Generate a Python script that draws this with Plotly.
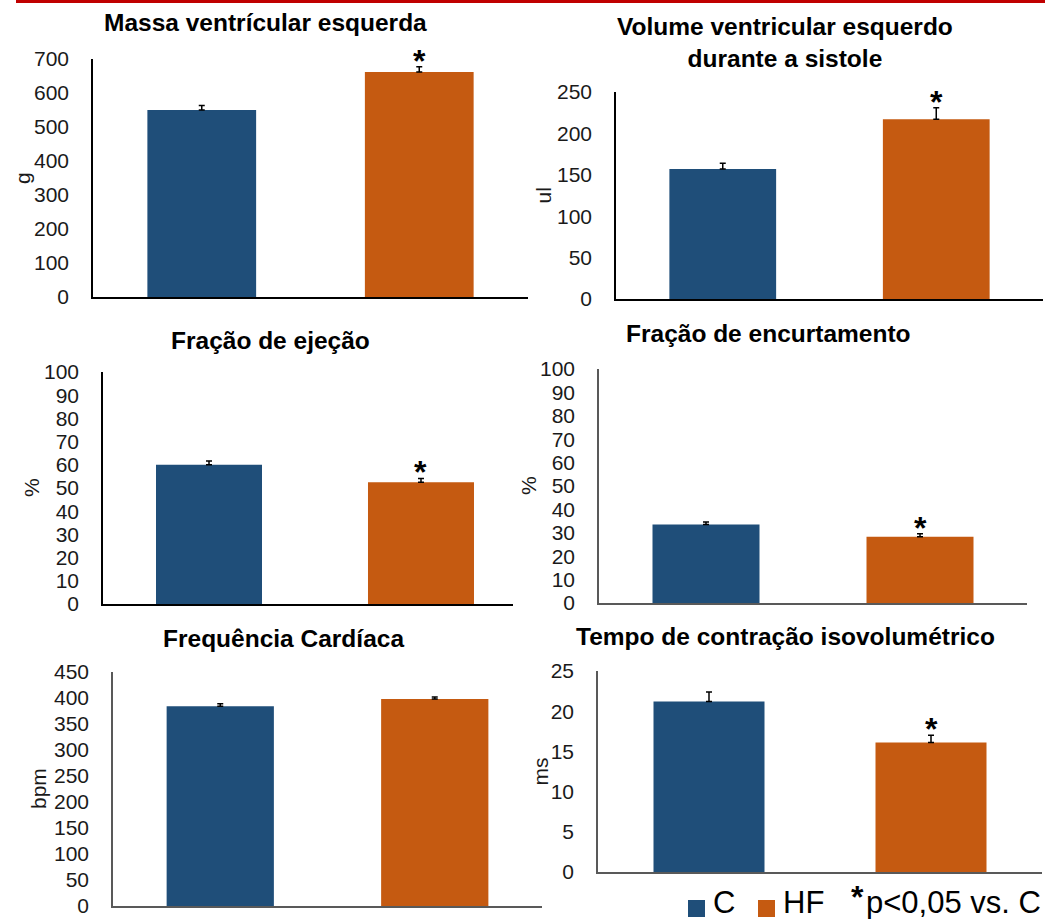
import plotly.graph_objects as go

W, H = 1045, 919

# ---- data -------------------------------------------------------------
groups = ["C", "HF"]
titles = [
    "Massa ventrícular esquerda",
    "Volume ventricular esquerdo<br>durante a sistole",
    "Fração de ejeção",
    "Fração de encurtamento",
    "Frequência Cardíaca",
    "Tempo de contração isovolumétrico",
]
units = ["g", "ul", "%", "%", "bpm", "ms"]
c_mean = [550, 157, 60.0, 33.6, 384, 21.2]
c_err = [13, 7, 1.6, 1.0, 5, 1.2]
hf_mean = [662, 217, 52.5, 28.3, 398, 16.1]
hf_err = [15, 14, 1.6, 1.3, 4, 0.9]
significant = [True, True, True, True, False, True]
y_max = [700, 250, 100, 100, 450, 25]
y_step = [100, 50, 10, 10, 50, 5]
note = "p&lt;0,05 vs. C"

# ---- layout of the six panels (pixels) --------------------------------
# left, right, top, bottom of each plotting box
boxes = [
    (93, 528, 59, 297),
    (616, 1043, 92, 299),
    (103, 513, 372, 604),
    (599, 1027, 369, 603),
    (113, 542, 672, 906),
    (598, 1042, 671, 872),
]
x_right = [1.5, 1.5, 1.434, 1.5, 1.5, 1.5]
title_pos = [(265, 23), (785, 42), (270, 340), (768, 333), (283, 638), (785, 636)]
unit_x = [23, 543, 32, 528, 38, 540]
axis_color = ["#000000", "#000000", "#000000", "#595959", "#595959", "#595959"]

BLUE = "#1F4E79"
ORANGE = "#C55A11"
FONT = "Liberation Sans, Arial, sans-serif"


def px(x):
    return x / W


def py(y):
    return 1 - y / H


fig = go.Figure()
annotations = []
shapes = []

for i in range(6):
    n = "" if i == 0 else str(i + 1)
    xa, ya = "x" + n, "y" + n
    for g, mean, err, col in ((groups[0], c_mean[i], c_err[i], BLUE),
                              (groups[1], hf_mean[i], hf_err[i], ORANGE)):
        fig.add_trace(go.Bar(
            x=[g], y=[mean], width=0.5, xaxis=xa, yaxis=ya,
            marker=dict(color=col, line=dict(width=0)),
            error_y=dict(type="data", array=[err], arrayminus=[0], symmetric=False,
                         color="#000000", thickness=1.5, width=3),
            showlegend=False, name=g,
        ))

    L, R, T, B = boxes[i]
    fig.update_layout({
        "xaxis" + n: dict(domain=[px(L), px(R)], range=[-0.5, x_right[i]], anchor=ya,
                          type="category", showticklabels=False, ticks="",
                          showgrid=False, zeroline=False, showline=True, automargin=False,
                          linecolor=axis_color[i], linewidth=1.5, fixedrange=True),
        "yaxis" + n: dict(domain=[py(B), py(T)], range=[0, y_max[i]], anchor=xa,
                          tick0=0, dtick=y_step[i], ticks="", ticklabelstandoff=18,
                          tickfont=dict(size=21, color="#1a1a1a", family=FONT),
                          showgrid=False, zeroline=False, showline=True, automargin=False,
                          linecolor=axis_color[i], linewidth=1.5, fixedrange=True),
    })

    tx, ty = title_pos[i]
    annotations.append(dict(text="<b>%s</b>" % titles[i], x=px(tx), y=py(ty),
                            xref="paper", yref="paper", xanchor="center", yanchor="middle",
                            showarrow=False, font=dict(size=24.5, color="#000000", family=FONT)))
    annotations.append(dict(text=units[i], x=px(unit_x[i]), y=py((T + B) / 2),
                            xref="paper", yref="paper", xanchor="center", yanchor="middle",
                            textangle=-90, showarrow=False,
                            font=dict(size=21, color="#1a1a1a", family=FONT)))
    if significant[i]:
        annotations.append(dict(text="<b>*</b>", x=groups[1], y=hf_mean[i] + hf_err[i],
                                xref=xa, yref=ya, xanchor="center", yanchor="bottom",
                                yshift=-14, showarrow=False,
                                font=dict(size=32, color="#000000", family=FONT)))

# key for the two groups and the significance note
for g, col, x0 in ((groups[0], BLUE, 688), (groups[1], ORANGE, 758)):
    shapes.append(dict(type="rect", xref="paper", yref="paper", x0=px(x0), x1=px(x0 + 17),
                       y0=py(917), y1=py(900), fillcolor=col, line=dict(width=0)))
    annotations.append(dict(text=g, x=px(x0 + 23), y=py(902), xref="paper", yref="paper",
                            xanchor="left", yanchor="middle", showarrow=False,
                            font=dict(size=31, color="#000000", family=FONT)))

annotations.append(dict(text="<b>*</b>", x=px(857), y=py(897), xref="paper", yref="paper",
                        xanchor="center", yanchor="middle", showarrow=False,
                        font=dict(size=32, color="#000000", family=FONT)))
annotations.append(dict(text=note, x=px(1043), y=py(902), xref="paper",
                        yref="paper", xanchor="right", yanchor="middle", showarrow=False,
                        font=dict(size=31, color="#000000", family=FONT)))

# red rule along the top edge
shapes.append(dict(type="rect", xref="paper", yref="paper", x0=px(16), x1=1,
                   y0=py(3), y1=1, fillcolor="#C00000", line=dict(width=0)))

fig.update_layout(
    width=W, height=H,
    margin=dict(l=0, r=0, t=0, b=0, autoexpand=False),
    paper_bgcolor="white", plot_bgcolor="white",
    font=dict(family=FONT),
    showlegend=False,
    annotations=annotations,
    shapes=shapes,
)

fig.write_html("out.html")
